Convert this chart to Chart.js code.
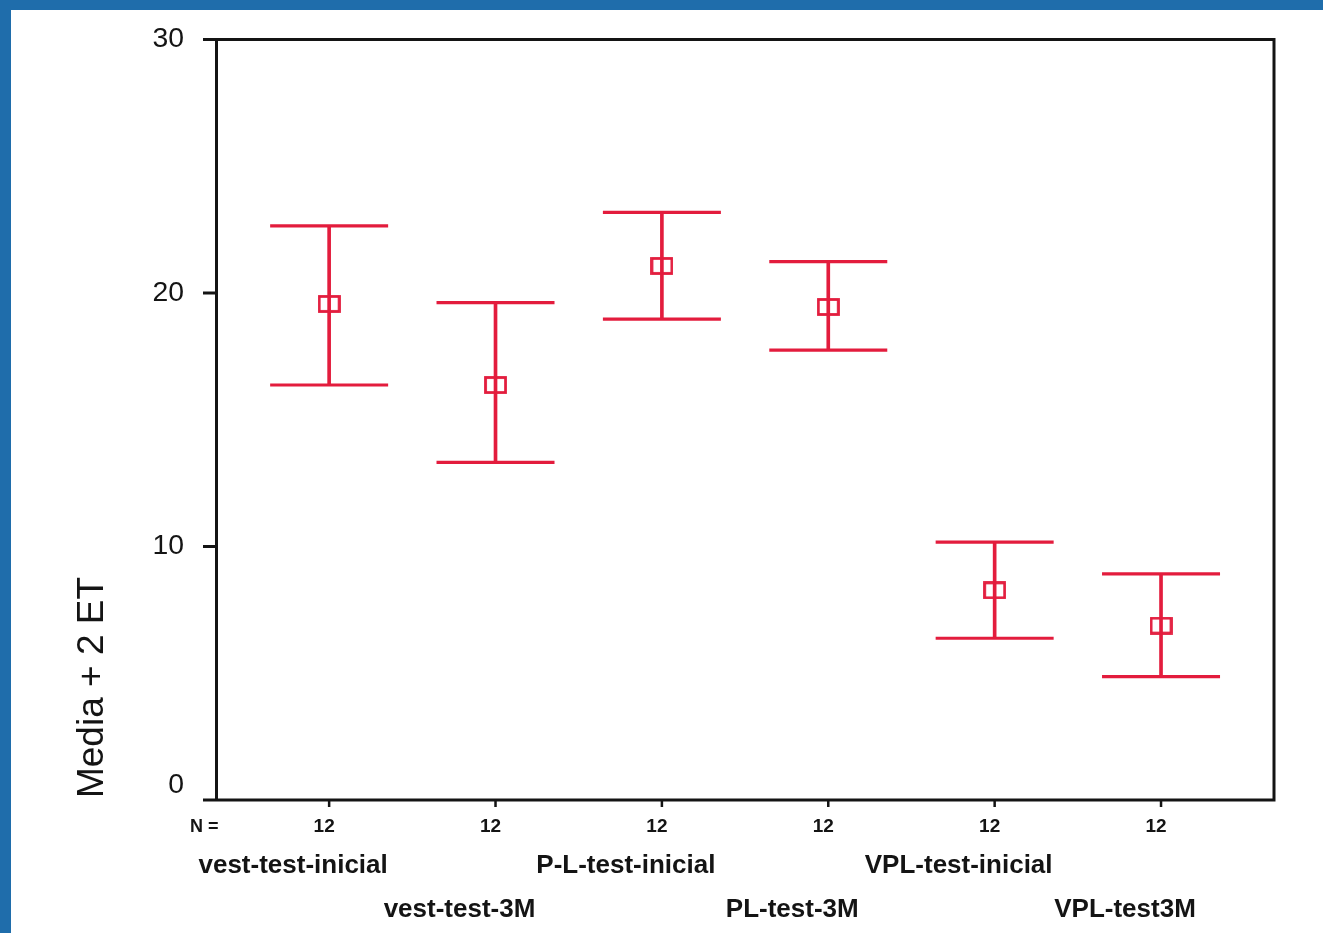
<!DOCTYPE html>
<html>
<head>
<meta charset="utf-8">
<script src="https://cdn.jsdelivr.net/npm/chart.js@4.4.1/dist/chart.umd.min.js"></script>
<style>
  html, body { margin: 0; padding: 0; background: #ffffff; }
  #c { display: block; }
</style>
</head>
<body>
<canvas id="c" width="1323" height="933"></canvas>
<script>
// ---- data ----
const categories = ['vest-test-inicial', 'vest-test-3M', 'P-L-test-inicial', 'PL-test-3M', 'VPL-test-inicial', 'VPL-test3M'];
const nValues = [12, 12, 12, 12, 12, 12];
const means = [19.57, 16.37, 21.07, 19.45, 8.27, 6.88];
const upper = [22.65, 19.62, 23.18, 21.24, 10.17, 8.92];
const lower = [16.37, 13.32, 18.97, 17.75, 6.38, 4.87];
const yTicks = [0, 10, 20, 30];
const yTitle = 'Media + 2 ET';
const nLabel = 'N =';

const RED = '#e31c3d';
const BLUE = '#1f6dab';
const INK = '#141414';
const FONT = '"Liberation Sans", Arial, sans-serif';

// mean marker: open rectangle
const marker = document.createElement('canvas');
marker.width = 23; marker.height = 18;
(function () {
  const m = marker.getContext('2d');
  m.strokeStyle = RED;
  m.lineWidth = 2.8;
  m.strokeRect(1.5, 1.5, 20, 15);
})();

const xs = categories.map((_, i) => i + 1);

function txt(ctx, s, x, y, font, align, sx) {
  ctx.save();
  ctx.font = font;
  ctx.fillStyle = INK;
  ctx.textBaseline = 'alphabetic';
  ctx.textAlign = align;
  ctx.translate(x, y);
  ctx.scale(sx || 1, 1);
  ctx.fillText(s, 0, 0);
  ctx.restore();
}

const decor = {
  id: 'decor',
  beforeDraw(chart) {
    const ctx = chart.ctx;
    ctx.save();
    ctx.fillStyle = '#ffffff';
    ctx.fillRect(0, 0, chart.width, chart.height);
    ctx.fillStyle = BLUE;
    ctx.fillRect(0, 0, chart.width, 10);
    ctx.fillRect(0, 0, 11, chart.height);
    ctx.restore();
  },
  afterDraw(chart) {
    const ctx = chart.ctx;
    const a = chart.chartArea;
    const xS = chart.scales.x, yS = chart.scales.y;
    ctx.save();
    ctx.strokeStyle = INK;
    ctx.lineWidth = 3;
    ctx.lineCap = 'butt';
    ctx.beginPath();
    // frame
    ctx.moveTo(203, a.top); ctx.lineTo(a.right + 1.5, a.top);
    ctx.moveTo(203, a.bottom); ctx.lineTo(a.right + 1.5, a.bottom);
    ctx.moveTo(a.left, a.top - 1.5); ctx.lineTo(a.left, a.bottom + 1.5);
    ctx.moveTo(a.right, a.top - 1.5); ctx.lineTo(a.right, a.bottom + 1.5);
    // y ticks
    yTicks.forEach(v => {
      const py = yS.getPixelForValue(v);
      ctx.moveTo(203, py); ctx.lineTo(a.left, py);
    });
    ctx.stroke();
    // x ticks
    ctx.lineWidth = 2.5;
    ctx.beginPath();
    xs.forEach(v => {
      const px = xS.getPixelForValue(v);
      ctx.moveTo(px, a.bottom); ctx.lineTo(px, a.bottom + 7);
    });
    ctx.stroke();
    ctx.restore();

    // y tick labels
    yTicks.forEach(v => {
      const py = yS.getPixelForValue(v);
      const base = v === 0 ? py - 7 : py + 7.5;
      txt(ctx, String(v), 184, base, '27px ' + FONT, 'right', 1.05);
    });

    // N row
    txt(ctx, nLabel, 190, 832, 'bold 18px ' + FONT, 'left', 1);
    xs.forEach((v, i) => {
      const px = xS.getPixelForValue(v);
      txt(ctx, String(nValues[i]), px - 5, 832, 'bold 19px ' + FONT, 'center', 1);
    });

    // category labels (staggered)
    xs.forEach((v, i) => {
      const px = xS.getPixelForValue(v) - 36;
      const base = i % 2 === 0 ? 873 : 917;
      txt(ctx, categories[i], px, base, 'bold 26px ' + FONT, 'center', 1);
    });

    // y title
    ctx.save();
    ctx.font = '37px ' + FONT;
    ctx.fillStyle = INK;
    ctx.textAlign = 'center';
    ctx.textBaseline = 'alphabetic';
    ctx.translate(103, 687.5);
    ctx.rotate(-Math.PI / 2);
    ctx.fillText(yTitle, 0, 0);
    ctx.restore();
  }
};

new Chart(document.getElementById('c'), {
  type: 'scatter',
  data: {
    datasets: [
      {
        type: 'bar',
        data: xs.map((x, i) => ({ x: x, y: [lower[i], upper[i]] })),
        backgroundColor: RED,
        borderWidth: 0,
        barThickness: 3,
        order: 3
      },
      {
        type: 'scatter',
        data: xs.map((x, i) => ({ x: x, y: upper[i] })).concat(xs.map((x, i) => ({ x: x, y: lower[i] }))),
        pointStyle: 'line',
        pointRadius: 59,
        pointHoverRadius: 59,
        borderColor: RED,
        borderWidth: 3.2,
        order: 2
      },
      {
        type: 'scatter',
        data: xs.map((x, i) => ({ x: x, y: means[i] })),
        pointStyle: marker,
        pointRadius: 10,
        order: 1
      }
    ]
  },
  options: {
    responsive: false,
    animation: false,
    events: [],
    layout: { autoPadding: false, padding: { left: 216.5, top: 39.5, right: 49, bottom: 133 } },
    plugins: { legend: { display: false }, tooltip: { enabled: false } },
    scales: {
      x: { type: 'linear', min: 0.323, max: 6.679, offset: false, display: false, grid: { display: false } },
      y: { type: 'linear', min: 0, max: 30, display: false, grid: { display: false } }
    }
  },
  plugins: [decor]
});
</script>
</body>
</html>
